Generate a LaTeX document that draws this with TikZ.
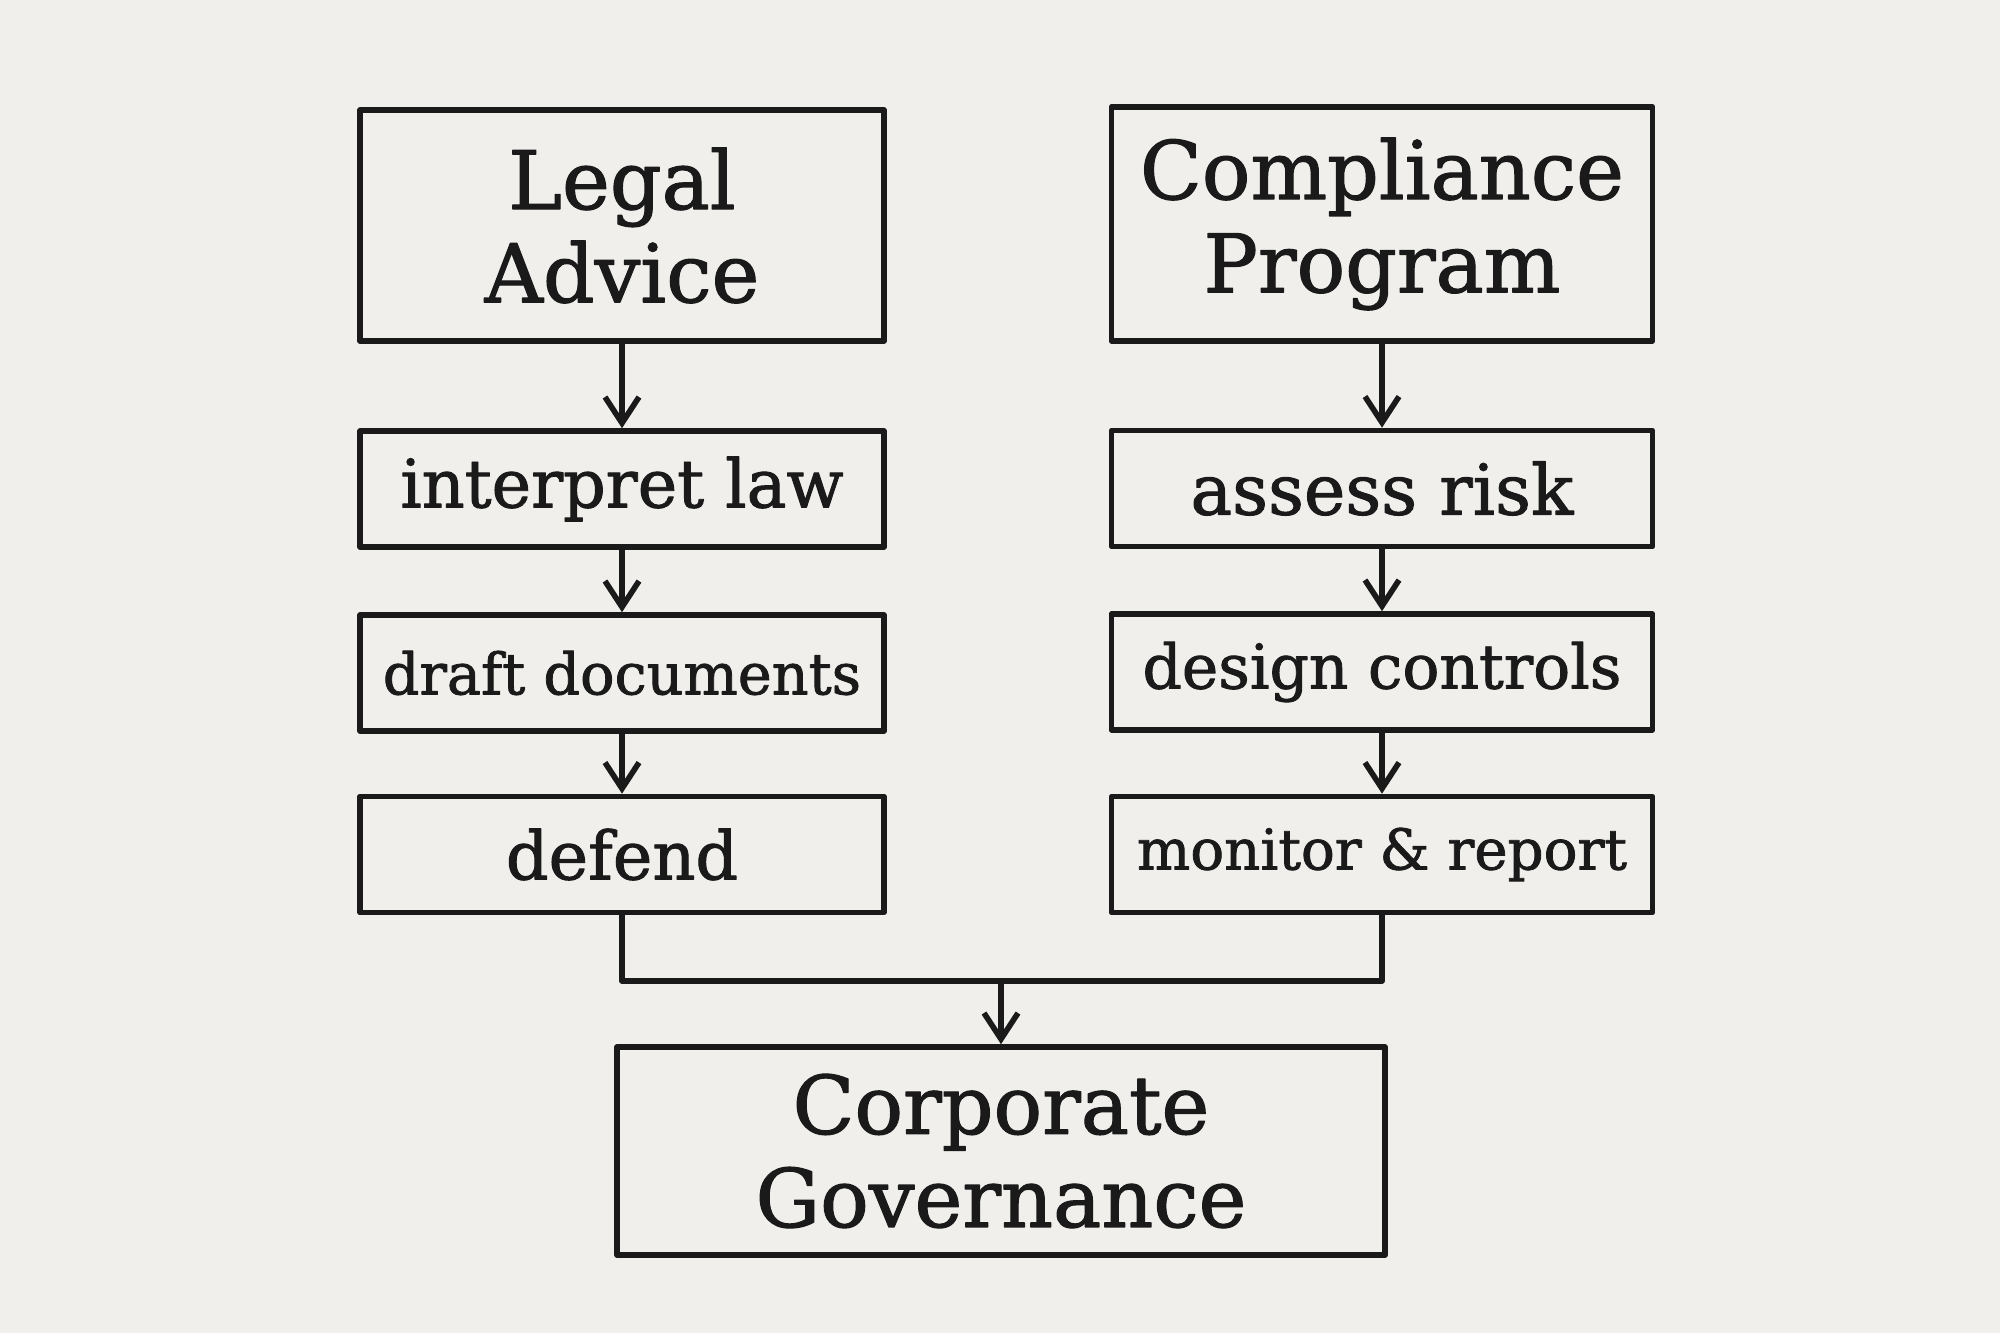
\documentclass[tikz,border=0pt]{standalone}
\usepackage{fontspec}
\setmainfont{DejaVu Serif}[FakeBold=1.4]
\usepackage{xcolor}
\usetikzlibrary{arrows.meta}
\usetikzlibrary{math}

\definecolor{paper}{HTML}{F0EFEC}
\definecolor{ink}{HTML}{1A1A1A}

\begin{document}
\begin{tikzpicture}[line width=1.6pt,line join=round,
  >={Straight Barb[length=2.6mm,width=3.4mm]},
  headbox/.style={draw=ink, text=ink, align=center, inner sep=0pt,
    font=\fontsize{23}{26.5}\selectfont},
  stepbox/.style={draw=ink, text=ink, inner sep=0pt, minimum height=1.16cm,
    font=\fontsize{19}{22}\selectfont},
  flow/.style={draw=ink, ->, line cap=round}]

  \tikzmath{
    \lx   = 6.22;  % centre of the legal column
    \rx   = 13.82; % centre of the compliance column
    \lw   = 5.24;  % width of the legal boxes
    \rw   = 5.41;  % width of the compliance boxes
    \join = 3.52;  % height of the joining line
  }

  % paper
  \fill[paper] (0,0) rectangle (20,13.33);
  \useasboundingbox (0,0) rectangle (20,13.33);

  % legal column
  \node[headbox, minimum width=\lw cm, minimum height=2.31cm] (legal) at (\lx, 11.075) {Legal\\Advice};
  \node[stepbox, minimum width=\lw cm] (interp) at (\lx, 8.44) {interpret law};
  \node[stepbox, minimum width=\lw cm, font=\fontsize{16.3}{20}\selectfont] (draft) at (\lx, 6.60) {draft documents};
  \node[stepbox, minimum width=\lw cm] (defend) at (\lx, 4.785) {defend};

  % compliance column
  \node[headbox, minimum width=\rw cm, minimum height=2.34cm] (comp) at (\rx, 11.09) {Compliance\\Program};
  \node[stepbox, minimum width=\rw cm, font=\fontsize{19.9}{22}\selectfont] (assess) at (\rx, 8.445) {assess risk};
  \node[stepbox, minimum width=\rw cm, font=\fontsize{17.5}{20}\selectfont] (design) at (\rx, 6.61) {design controls};
  \node[stepbox, minimum width=\rw cm, font=\fontsize{16}{20}\selectfont] (monitor) at (\rx, 4.785) {monitor \& report};

  % governance
  \node[headbox, minimum width=7.68cm, minimum height=2.08cm] (corp) at (10.01, 1.82) {Corporate\\Governance};

  % arrows down the columns
  \draw[flow] (legal) -- (interp);
  \draw[flow] (interp) -- (draft);
  \draw[flow] (draft) -- (defend);

  \draw[flow] (comp) -- (assess);
  \draw[flow] (assess) -- (design);
  \draw[flow] (design) -- (monitor);

  % joining both columns
  \coordinate (join) at (10.01, \join);
  \draw[ink] (defend.south) |- (join) -| (monitor.south);
  \draw[flow] (join) -- (corp);

\end{tikzpicture}
\end{document}
